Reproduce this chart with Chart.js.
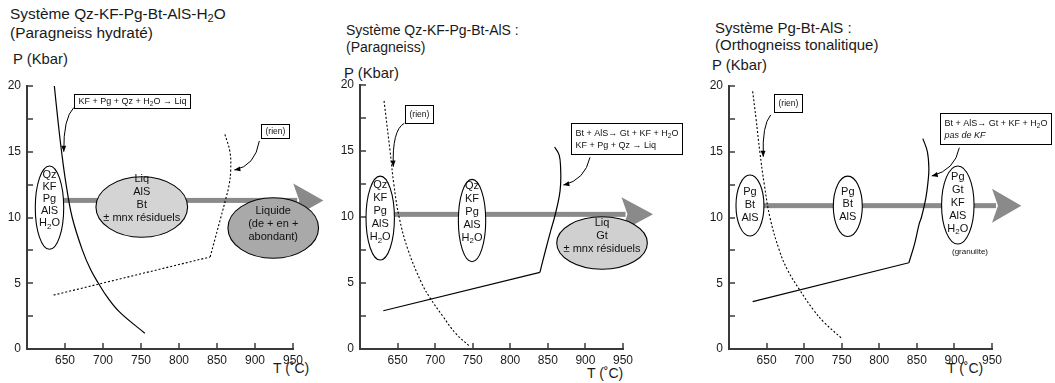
<!DOCTYPE html>
<html><head><meta charset="utf-8">
<script src="https://cdn.jsdelivr.net/npm/chart.js@4.4.0/dist/chart.umd.min.js"></script>
<style>
body{margin:0;width:1055px;height:383px;background:#fff;position:relative;overflow:hidden;font-family:"Liberation Sans",Arial,sans-serif;}
canvas{position:absolute;top:0;}
.t{position:absolute;font-size:14px;line-height:16px;color:#1a1a1a;white-space:nowrap;}
.t sub{font-size:0.72em;vertical-align:-3px;line-height:0;}
.big{font-size:15.4px;}
.mid{font-size:15px;}
.ax{font-size:14.8px;}
</style></head><body>
<div class="t big" style="left:10px;top:6px">Système Qz-KF-Pg-Bt-AlS-H<sub>2</sub>O</div>
<div class="t big" style="left:10px;top:25px">(Paragneiss hydraté)</div>
<div class="t ax" style="left:13px;top:51px">P (Kbar)</div>
<div class="t" style="left:273px;top:360px">T (˚C)</div>

<div class="t" style="left:346px;top:22px">Système Qz-KF-Pg-Bt-AlS :</div>
<div class="t" style="left:346px;top:39px">(Paragneiss)</div>
<div class="t ax" style="left:344px;top:65px">P (Kbar)</div>
<div class="t" style="left:587px;top:365px">T (˚C)</div>

<div class="t mid" style="left:715px;top:20px">Système Pg-Bt-AlS :</div>
<div class="t mid" style="left:715px;top:37px">(Orthogneiss tonalitique)</div>
<div class="t ax" style="left:712px;top:57px">P (Kbar)</div>
<div class="t" style="left:947px;top:360px">T (˚C)</div>

<canvas id="c1" width="340" height="383" style="left:0px"></canvas>
<canvas id="c2" width="360" height="383" style="left:340px"></canvas>
<canvas id="c3" width="355" height="383" style="left:700px"></canvas>
<script>
// ---------------- DATA ----------------
const T_TICKS = [650, 700, 750, 800, 850, 900, 950];
const P_TICKS = [0, 5, 10, 15, 20];

// Panel 1 : Système Qz-KF-Pg-Bt-AlS-H2O
const p1SolidT = [636, 640.5, 645.5, 651.5, 659.5, 673, 684, 694, 705, 722, 755];
const p1SolidP = [20, 17.5, 15, 12.5, 10, 7.5, 6, 5, 4, 2.8, 1.2];
const p1DashLowT = [635, 841];
const p1DashLowP = [4.1, 7.0];
const p1DashUpT = [841, 848, 855, 861, 866, 868, 867, 860];
const p1DashUpP = [7.0, 8.5, 10, 11.3, 12.5, 13.6, 15, 16.4];
const p1PathP = 11.3;

// Panel 2 : Système Qz-KF-Pg-Bt-AlS
const p2DashT = [632, 640, 645, 652, 664, 682, 694, 710, 727, 746];
const p2DashP = [18.8, 15, 12.5, 10, 7.5, 5, 3.8, 2.5, 1.2, 0.2];
const p2SolidLowT = [631, 839.4];
const p2SolidLowP = [2.9, 5.8];
const p2SolidUpT = [839.4, 847, 854, 859, 865, 867, 867, 865, 859];
const p2SolidUpP = [5.8, 7.5, 9, 10, 11.5, 12.5, 13.7, 14.7, 15.3];
const p2PathP = 10.2;

// Panel 3 : Système Pg-Bt-AlS
const p3DashT = [631.5, 636, 641, 647, 654.5, 667, 678, 694, 712, 727, 751];
const p3DashP = [19.6, 17.5, 15, 12.5, 10, 7.5, 6, 4.5, 3, 2, 0.76];
const p3SolidLowT = [631.5, 839.4];
const p3SolidLowP = [3.6, 6.56];
const p3SolidUpT = [839.4, 847, 853, 856, 862, 865, 866, 864, 858];
const p3SolidUpP = [6.56, 8, 9.5, 10, 11.5, 12.8, 13.7, 15, 16];
const p3PathP = 10.9;

// ---------------- STYLE / ANNOTATIONS ----------------
const FONT = '"Liberation Sans", Arial, sans-serif';
const AXIS = '#3a3a3a';
Chart.defaults.font.family = FONT;

const pts = (T, P) => T.map((t, i) => ({x: t, y: P[i]}));
const solid = (T, P, tension) => ({data: pts(T, P), showLine: true, borderColor: '#000', borderWidth: 1.2, pointRadius: 0, tension: tension, fill: false, clip: false});
const dashed = (T, P, tension) => Object.assign(solid(T, P, tension), {borderDash: [2, 2], borderWidth: 1.1});

const panels = [
  {
    id: 'c1', axisX: 27, top: 86, bottom: 349, padRight: 47,
    datasets: [solid(p1SolidT, p1SolidP, 0.4), dashed(p1DashLowT, p1DashLowP, 0), dashed(p1DashUpT, p1DashUpP, 0.4)],
    path: {P: p1PathP, from: 630, base: 950.3, tip: 990},
    ellipses: [
      {T: 629.6, P: 10.75, rT: 18.7, rP: 3.17, fill: '#ffffff', textP: 11.4, lh: 12, lines: ['Qz', 'KF', 'Pg', 'AlS', 'H{2}O']},
      {T: 751, P: 10.8, rT: 60.3, rP: 2.3, fill: '#d4d4d4', textP: 11.45, lh: 12.8, lines: ['Liq', 'AlS', 'Bt', '± mnx résiduels']},
      {T: 924, P: 9.2, rT: 59.6, rP: 2.3, fill: '#a9a9a9', textP: 9.5, lh: 13.3, lines: ['Liquide', '(de + en +', 'abondant)']}
    ],
    boxes: [
      {T: 662.2, P: 19.39, lines: ['KF + Pg + Qz + H{2}O → Liq'], size: 9, padY: 1},
      {T: 908.3, P: 17.09, lines: ['(rien)'], size: 8.5, padY: 1.5}
    ],
    arrows: [
      {s: [661.6, 18.36], c: [647.8, 17.57], e: [648.4, 15.0]},
      {s: [905.7, 15.82], c: [900.4, 13.92], e: [872.8, 13.61]}
    ],
    labels: []
  },
  {
    id: 'c2', axisX: 20, top: 85, bottom: 349, padRight: 77,
    datasets: [dashed(p2DashT, p2DashP, 0.4), solid(p2SolidLowT, p2SolidLowP, 0), solid(p2SolidUpT, p2SolidUpP, 0.4)],
    path: {P: p2PathP, from: 627, base: 948, tip: 990},
    ellipses: [
      {T: 626.9, P: 9.92, rT: 18.9, rP: 3.18, fill: '#ffffff', textP: 10.45, lh: 13, lines: ['Qz', 'KF', 'Pg', 'AlS', 'H{2}O']},
      {T: 749.1, P: 9.73, rT: 18.2, rP: 3.12, fill: '#ffffff', textP: 10.38, lh: 13, lines: ['Qz', 'KF', 'Pg', 'AlS', 'H{2}O']},
      {T: 922.1, P: 8.03, rT: 60.3, rP: 1.99, fill: '#d0d0d0', textP: 8.58, lh: 12.8, lines: ['Liq', 'Gt', '± mnx résiduels']}
    ],
    boxes: [
      {T: 659.9, P: 18.48, lines: ['(rien)'], size: 8.5, padY: 3.5},
      {T: 880.4, P: 17.14, lines: ['Bt + AlS→ Gt + KF + H{2}O', 'KF + Pg + Qz → Liq'], size: 9, padY: 4}
    ],
    arrows: [
      {s: [659, 17.1], c: [642.6, 16.6], e: [644.3, 13.81]},
      {s: [906.1, 14.52], c: [899.4, 12.8], e: [870.6, 12.42]}
    ],
    labels: []
  },
  {
    id: 'c3', axisX: 29, top: 86, bottom: 349, padRight: 63,
    datasets: [dashed(p3DashT, p3DashP, 0.4), solid(p3SolidLowT, p3SolidLowP, 0), solid(p3SolidUpT, p3SolidUpP, 0.4)],
    path: {P: p3PathP, from: 628, base: 950, tip: 989},
    ellipses: [
      {T: 627.9, P: 10.91, rT: 18.6, rP: 2.32, fill: '#ffffff', textP: 10.95, lh: 12.8, lines: ['Pg', 'Bt', 'AlS']},
      {T: 758.1, P: 10.85, rT: 19.3, rP: 2.3, fill: '#ffffff', textP: 11.0, lh: 12.8, lines: ['Pg', 'Bt', 'AlS']},
      {T: 904.5, P: 10.95, rT: 21.6, rP: 2.97, fill: '#ffffff', textP: 11.11, lh: 13, lines: ['Pg', 'Gt', 'KF', 'AlS', 'H{2}O']}
    ],
    boxes: [
      {T: 659.9, P: 19.39, lines: ['(rien)'], size: 8.5, padY: 3.5},
      {T: 880.8, P: 17.92, lines: ['Bt + AlS→ Gt + KF + H{2}O', '/pas de KF'], size: 9, padY: 4}
    ],
    arrows: [
      {s: [655.5, 17.8], c: [643.9, 17.03], e: [645.6, 14.62]},
      {s: [906.5, 15.31], c: [900.8, 13.6], e: [869.8, 13.16]}
    ],
    labels: [{T: 920.7, P: 7.4, text: '(granulite)', size: 8}]
  }
];

// ---------------- DRAW HELPERS ----------------
function richParts(s) {
  const parts = []; const re = /\{([^}]*)\}/g; let last = 0, m;
  while ((m = re.exec(s))) {
    if (m.index > last) parts.push({t: s.slice(last, m.index), sub: false});
    parts.push({t: m[1], sub: true}); last = re.lastIndex;
  }
  if (last < s.length) parts.push({t: s.slice(last), sub: false});
  return parts;
}
function measureRich(ctx, s, size, style) {
  let w = 0;
  richParts(s).forEach(p => { ctx.font = `${style} ${p.sub ? size * 0.72 : size}px ${FONT}`; w += ctx.measureText(p.t).width; });
  return w;
}
function drawRich(ctx, s, x, y, size, align, style) {
  style = style || '';
  const w = measureRich(ctx, s, size, style);
  let cx = align === 'center' ? x - w / 2 : x;
  ctx.textBaseline = 'middle'; ctx.textAlign = 'left';
  richParts(s).forEach(p => {
    ctx.font = `${style} ${p.sub ? size * 0.72 : size}px ${FONT}`;
    ctx.fillText(p.t, cx, y + (p.sub ? size * 0.3 : 0));
    cx += ctx.measureText(p.t).width;
  });
}

function overlay(cfg) {
  return {
    id: 'overlay_' + cfg.id,
    beforeDatasetsDraw(chart) {
      const {ctx, scales: {x, y}, chartArea: ca} = chart;
      ctx.save();
      // inward ticks
      ctx.strokeStyle = AXIS; ctx.lineWidth = 1.5;
      y.ticks.forEach(t => {
        if (t.value === 0) return;
        const py = Math.round(y.getPixelForValue(t.value));
        ctx.beginPath(); ctx.moveTo(ca.left, py); ctx.lineTo(ca.left + 6, py); ctx.stroke();
      });
      x.ticks.forEach(t => {
        if (!T_TICKS.includes(t.value)) return;
        const px = Math.round(x.getPixelForValue(t.value));
        ctx.beginPath(); ctx.moveTo(px, ca.bottom); ctx.lineTo(px, ca.bottom - 6); ctx.stroke();
      });
      // metamorphic path arrow
      const pa = cfg.path;
      const py = y.getPixelForValue(pa.P);
      const x0 = x.getPixelForValue(pa.from), xb = x.getPixelForValue(pa.base), xt = x.getPixelForValue(pa.tip);
      ctx.fillStyle = '#8a8a8a';
      ctx.fillRect(x0, py - 2.5, xb - x0 + 4, 5);
      ctx.beginPath();
      ctx.moveTo(xb, py - 17); ctx.lineTo(xt, py); ctx.lineTo(xb, py + 17); ctx.lineTo(xb + 6, py);
      ctx.closePath(); ctx.fill();
      // ellipses
      cfg.ellipses.forEach(e => {
        const cx = x.getPixelForValue(e.T), cy = y.getPixelForValue(e.P);
        const rx = Math.abs(x.getPixelForValue(e.T + e.rT) - cx), ry = Math.abs(y.getPixelForValue(e.P + e.rP) - cy);
        ctx.beginPath(); ctx.ellipse(cx, cy, rx, ry, 0, 0, Math.PI * 2);
        ctx.fillStyle = e.fill; ctx.fill();
        ctx.strokeStyle = '#000'; ctx.lineWidth = 1.1; ctx.stroke();
      });
      ctx.restore();
    },
    afterDatasetsDraw(chart) {
      const {ctx, scales: {x, y}} = chart;
      ctx.save();
      ctx.fillStyle = '#111';
      cfg.ellipses.forEach(e => {
        const cx = x.getPixelForValue(e.T), cy = y.getPixelForValue(e.textP);
        const n = e.lines.length;
        e.lines.forEach((l, i) => drawRich(ctx, l, cx, cy + (i - (n - 1) / 2) * e.lh, 11, 'center'));
      });
      cfg.labels.forEach(l => drawRich(ctx, l.text, x.getPixelForValue(l.T), y.getPixelForValue(l.P), l.size, 'center'));
      cfg.boxes.forEach(b => {
        const bx = Math.round(x.getPixelForValue(b.T)) + 0.5, by = Math.round(y.getPixelForValue(b.P)) + 0.5;
        const lh = b.size * 1.3, padX = 4, padY = b.padY;
        let w = 0;
        b.lines.forEach(l => { const it = l.startsWith('/'); w = Math.max(w, measureRich(ctx, it ? l.slice(1) : l, b.size, it ? 'italic' : '')); });
        const bw = Math.round(w + 2 * padX), bh = Math.round(b.lines.length * lh + 2 * padY);
        ctx.fillStyle = '#fff'; ctx.fillRect(bx, by, bw, bh);
        ctx.strokeStyle = '#000'; ctx.lineWidth = 1; ctx.strokeRect(bx, by, bw, bh);
        ctx.fillStyle = '#111';
        b.lines.forEach((l, i) => {
          const it = l.startsWith('/');
          drawRich(ctx, it ? l.slice(1) : l, bx + padX, by + padY + lh * (i + 0.5), b.size, 'left', it ? 'italic' : '');
        });
      });
      cfg.arrows.forEach(a => {
        const sx = x.getPixelForValue(a.s[0]), sy = y.getPixelForValue(a.s[1]);
        const cx = x.getPixelForValue(a.c[0]), cy = y.getPixelForValue(a.c[1]);
        const ex = x.getPixelForValue(a.e[0]), ey = y.getPixelForValue(a.e[1]);
        ctx.strokeStyle = '#000'; ctx.lineWidth = 1;
        ctx.beginPath(); ctx.moveTo(sx, sy); ctx.quadraticCurveTo(cx, cy, ex, ey); ctx.stroke();
        const ang = Math.atan2(ey - cy, ex - cx);
        ctx.fillStyle = '#000';
        ctx.beginPath();
        ctx.moveTo(ex, ey);
        ctx.lineTo(ex - 6 * Math.cos(ang) + 2.5 * Math.sin(ang), ey - 6 * Math.sin(ang) - 2.5 * Math.cos(ang));
        ctx.lineTo(ex - 6 * Math.cos(ang) - 2.5 * Math.sin(ang), ey - 6 * Math.sin(ang) + 2.5 * Math.cos(ang));
        ctx.closePath(); ctx.fill();
      });
      ctx.restore();
    }
  };
}

panels.forEach(cfg => {
  const canvas = document.getElementById(cfg.id);
  const H = canvas.height;
  new Chart(canvas, {
    type: 'scatter',
    data: {datasets: cfg.datasets},
    options: {
      responsive: false, animation: false, events: [],
      layout: {padding: {left: 0, top: cfg.top, right: cfg.padRight, bottom: 0}},
      plugins: {legend: {display: false}, tooltip: {enabled: false}},
      scales: {
        x: {
          type: 'linear', min: 600, max: 950,
          afterFit: s => { s.height = H - cfg.bottom; },
          ticks: {stepSize: 50, padding: 4, autoSkip: false, maxRotation: 0, color: '#1a1a1a', font: {size: 12},
            callback: v => T_TICKS.includes(v) ? String(v) : ''},
          grid: {drawOnChartArea: false, drawTicks: false},
          border: {display: true, color: AXIS, width: 2}
        },
        y: {
          type: 'linear', min: 0, max: 20,
          afterFit: s => { s.width = cfg.axisX; },
          ticks: {stepSize: 2.5, padding: 6, autoSkip: false, color: '#1a1a1a', font: {size: 12},
            callback: v => P_TICKS.includes(v) ? String(v) : ''},
          grid: {drawOnChartArea: false, drawTicks: false},
          border: {display: true, color: AXIS, width: 2}
        }
      }
    },
    plugins: [overlay(cfg)]
  });
});
</script>
</body></html>
